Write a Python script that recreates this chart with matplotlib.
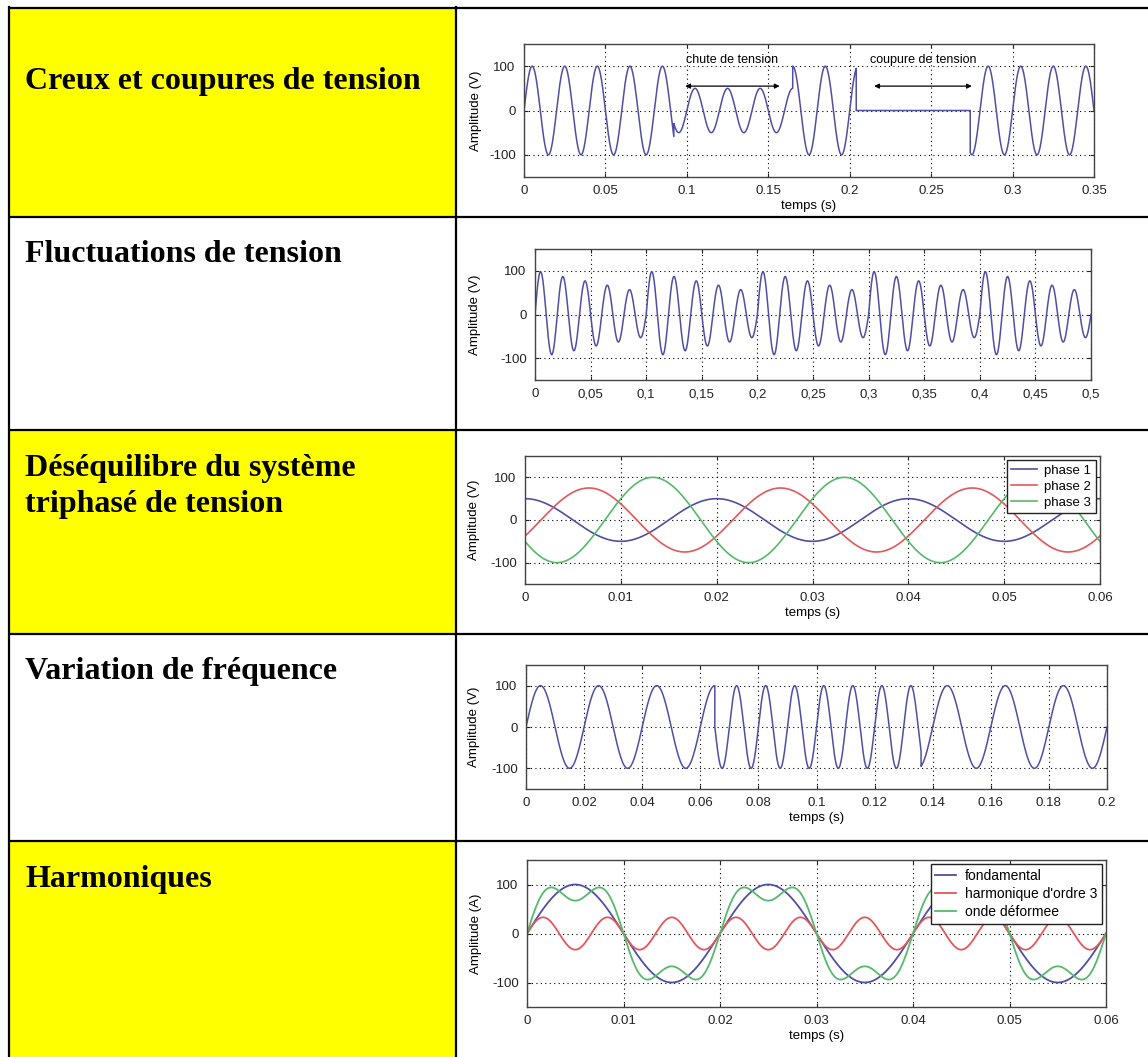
import numpy as np
import matplotlib
matplotlib.use("Agg")
import matplotlib.pyplot as plt
from matplotlib.patches import Rectangle

plt.rcParams['axes.unicode_minus'] = False
plt.rcParams['font.family'] = ['Liberation Sans', 'DejaVu Sans']

W, H = 1148, 1057

# ---------------- table content ----------------
row_titles = ["Creux et coupures de tension",
              "Fluctuations de tension",
              "Déséquilibre du système\ntriphasé de tension",
              "Variation de fréquence",
              "Harmoniques"]
row_yellow = [True, False, True, False, True]

# ---------------- chart 1 : creux et coupures ----------------
c1_bounds = [0.0, 0.092, 0.165, 0.204, 0.274, 0.35]
c1_amps = [100, 50, 100, 0, 100]
c1_freq = 50
c1_xticks = [0, 0.05, 0.1, 0.15, 0.2, 0.25, 0.3, 0.35]
c1_xlabels = ["0", "0.05", "0.1", "0.15", "0.2", "0.25", "0.3", "0.35"]
c1_annot_text = ["chute de tension", "coupure de tension"]
c1_annot_span = [(0.099, 0.157), (0.215, 0.275)]
c1_annot_y = 55
c1_text_y = 115

# ---------------- chart 2 : fluctuations ----------------
c2_half_peaks = [98, 92, 87, 83, 77, 72, 67, 63, 57, 53]
c2_repeats = 5
c2_freq = 50
c2_xticks = [0, 0.05, 0.1, 0.15, 0.2, 0.25, 0.3, 0.35, 0.4, 0.45, 0.5]
c2_xlabels = ["0", "0,05", "0,1", "0,15", "0,2", "0,25", "0,3", "0,35", "0,4", "0,45", "0,5"]

# ---------------- chart 3 : desequilibre ----------------
c3_names = ["phase 1", "phase 2", "phase 3"]
c3_amps = [50, 75, 100]
c3_phase_deg = [0, -120, -240]
c3_freq = 50
c3_tmax = 0.06
c3_xticks = [0, 0.01, 0.02, 0.03, 0.04, 0.05, 0.06]
c3_xlabels = ["0", "0.01", "0.02", "0.03", "0.04", "0.05", "0.06"]

# ---------------- chart 4 : variation de frequence ----------------
c4_bounds = [0.0, 0.065, 0.136, 0.2]
c4_freqs = [50, 100, 50]
c4_amp = 100
c4_xticks = [0, 0.02, 0.04, 0.06, 0.08, 0.1, 0.12, 0.14, 0.16, 0.18, 0.2]
c4_xlabels = ["0", "0.02", "0.04", "0.06", "0.08", "0.1", "0.12", "0.14", "0.16", "0.18", "0.2"]

# ---------------- chart 5 : harmoniques ----------------
c5_names = ["fondamental", "harmonique d'ordre 3", "onde déformee"]
c5_fund_amp = 100
c5_h_amp = 33
c5_order = 3
c5_freq = 50
c5_tmax = 0.06
c5_xticks = [0, 0.01, 0.02, 0.03, 0.04, 0.05, 0.06]
c5_xlabels = ["0", "0.01", "0.02", "0.03", "0.04", "0.05", "0.06"]

yticks = [-100, 0, 100]
ylabels_txt = ["-100", "0", "100"]

BLUE = "#4f4fa3"
RED = "#e4575b"
GREEN = "#56b96c"

# ================= figure =================
fig = plt.figure(figsize=(W / 100, H / 100), dpi=100)
bg = fig.add_axes([0, 0, 1, 1], zorder=0)
bg.set_xlim(0, W)
bg.set_ylim(H, 0)
bg.axis("off")

row_lines = [7.5, 217, 430, 634, 841, H]
x_left, x_div = 9, 456
for i, yellow in enumerate(row_yellow):
    if yellow:
        bg.add_patch(Rectangle((x_left, row_lines[i]), x_div - x_left,
                               row_lines[i + 1] - row_lines[i],
                               facecolor="#FFFF00", edgecolor="none"))
for y in row_lines[:-1]:
    bg.plot([x_left - 1, W], [y, y], color="black", lw=1.6, solid_capstyle="butt")
bg.plot([x_left, x_left], [7, H], color="black", lw=1.6)
bg.plot([x_div, x_div], [7, H], color="black", lw=1.6)

title_baselines = [89, 262, 476, 679, 887]
line_step = 36
for txt, yb in zip(row_titles, title_baselines):
    for j, line in enumerate(txt.split("\n")):
        bg.text(25, yb + j * line_step, line, fontsize=23, fontweight="bold",
                family=["Liberation Serif", "DejaVu Serif"],
                ha="left", va="baseline")


def make_ax(left, right, top, bottom, ylab_x):
    ax = fig.add_axes([left / W, 1 - bottom / H, (right - left) / W, (bottom - top) / H], zorder=2)
    ax.set_ylim(-150, 150)
    ax.set_yticks(yticks)
    ax.set_yticklabels(ylabels_txt)
    ax.grid(True, linestyle=(0, (1, 3)), color="black", lw=0.8)
    ax.tick_params(direction="in", length=3, top=True, right=True, labelsize=9.5,
                   colors="#222222", pad=6)
    for s in ax.spines.values():
        s.set_color("#444444")
        s.set_linewidth(1.0)
    ax.yaxis.set_label_coords((ylab_x - left) / (right - left), 0.5)
    return ax


def add_legend(ax, fs, hl):
    leg = ax.legend(loc="upper right", fontsize=fs, fancybox=False, framealpha=1,
                    edgecolor="#222222", borderaxespad=0.3, handlelength=hl,
                    labelspacing=0.28, borderpad=0.35, handletextpad=0.6)
    leg.get_frame().set_linewidth(1.0)
    return leg


# ---- chart 1
ax1 = make_ax(524, 1094, 44, 177, 482)
tt, yy = [], []
for a, b, amp in zip(c1_bounds[:-1], c1_bounds[1:], c1_amps):
    t = np.linspace(a, b, 600)
    tt.append(t)
    yy.append(amp * np.sin(2 * np.pi * c1_freq * t))
ax1.plot(np.concatenate(tt), np.concatenate(yy), color=BLUE, lw=1.1)
ax1.set_xlim(c1_bounds[0], c1_bounds[-1])
ax1.set_xticks(c1_xticks)
ax1.set_xticklabels(c1_xlabels)
ax1.set_xlabel("temps (s)", fontsize=9.5, labelpad=2)
ax1.set_ylabel("Amplitude (V)", fontsize=9.5)
for txt, (a, b) in zip(c1_annot_text, c1_annot_span):
    ax1.annotate("", xy=(a, c1_annot_y), xytext=(b, c1_annot_y),
                 arrowprops=dict(arrowstyle="<|-|>", color="black", lw=0.9,
                                 mutation_scale=7, shrinkA=0, shrinkB=0))
    ax1.text((a + b) / 2, c1_text_y, txt, fontsize=9, ha="center", va="center")

# ---- chart 2
ax2 = make_ax(535, 1091, 249, 380, 481)
half = 1 / c2_freq / 2
tt, yy = [], []
for k in range(len(c2_half_peaks) * c2_repeats):
    t = np.linspace(k * half, (k + 1) * half, 80)
    tt.append(t)
    yy.append(c2_half_peaks[k % len(c2_half_peaks)] * np.sin(2 * np.pi * c2_freq * t))
ax2.plot(np.concatenate(tt), np.concatenate(yy), color=BLUE, lw=1.1)
ax2.set_xlim(0, c2_xticks[-1])
ax2.set_xticks(c2_xticks)
ax2.set_xticklabels(c2_xlabels)
ax2.set_ylabel("Amplitude (V)", fontsize=9.5)

# ---- chart 3
ax3 = make_ax(525, 1100, 456, 584, 480)
t = np.linspace(0, c3_tmax, 2000)
for name, amp, ph, col in zip(c3_names, c3_amps, c3_phase_deg, [BLUE, RED, GREEN]):
    ax3.plot(t, amp * np.cos(2 * np.pi * c3_freq * t + np.deg2rad(ph)), color=col, lw=1.2, label=name)
ax3.set_xlim(0, c3_tmax)
ax3.set_xticks(c3_xticks)
ax3.set_xticklabels(c3_xlabels)
ax3.set_xlabel("temps (s)", fontsize=9.5, labelpad=2)
ax3.set_ylabel("Amplitude (V)", fontsize=9.5)
add_legend(ax3, 9.5, 1.9)

# ---- chart 4
ax4 = make_ax(526, 1107, 665, 789, 480)
tt, yy = [], []
for a, b, f in zip(c4_bounds[:-1], c4_bounds[1:], c4_freqs):
    t = np.linspace(a, b, 800)
    tt.append(t)
    yy.append(c4_amp * np.sin(2 * np.pi * f * t))
ax4.plot(np.concatenate(tt), np.concatenate(yy), color=BLUE, lw=1.1)
ax4.set_xlim(c4_bounds[0], c4_bounds[-1])
ax4.set_xticks(c4_xticks)
ax4.set_xticklabels(c4_xlabels)
ax4.set_xlabel("temps (s)", fontsize=9.5, labelpad=2)
ax4.set_ylabel("Amplitude (V)", fontsize=9.5)

# ---- chart 5
ax5 = make_ax(527, 1106, 860, 1007, 482)
t = np.linspace(0, c5_tmax, 2000)
fund = c5_fund_amp * np.sin(2 * np.pi * c5_freq * t)
harm = c5_h_amp * np.sin(2 * np.pi * c5_order * c5_freq * t)
ax5.plot(t, fund, color=BLUE, lw=1.3, label=c5_names[0])
ax5.plot(t, harm, color=RED, lw=1.3, label=c5_names[1])
ax5.plot(t, fund + harm, color=GREEN, lw=1.3, label=c5_names[2])
ax5.set_xlim(0, c5_tmax)
ax5.set_xticks(c5_xticks)
ax5.set_xticklabels(c5_xlabels)
ax5.set_xlabel("temps (s)", fontsize=9.5, labelpad=2)
ax5.set_ylabel("Amplitude (A)", fontsize=9.5)
add_legend(ax5, 10, 1.5)

fig.savefig("out.png", dpi=100)
